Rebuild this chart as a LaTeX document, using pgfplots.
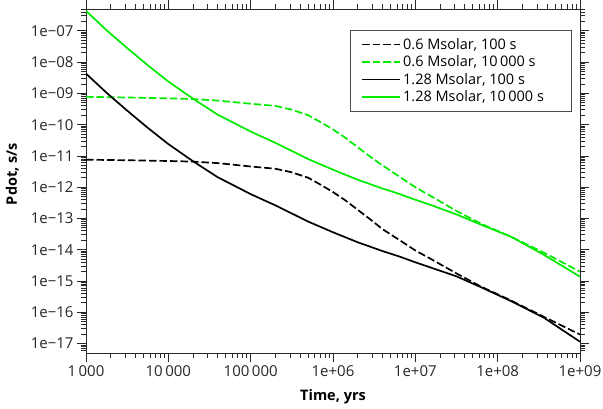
\documentclass[border=0pt]{standalone}
\usepackage{fontspec}
\setmainfont{Open Sans}
\usepackage{pgfplots}
\usepackage{pgfplotstable}
\pgfplotsset{compat=1.18}
\definecolor{lgreen}{RGB}{0,235,0}
\definecolor{axgray}{RGB}{40,40,40}

\pgfplotstableread{
x y
1000 7.586e-12
1778 7.45e-12
3162 7.3e-12
5623 7.1e-12
10000 6.9e-12
19950 6.6e-12
39810 5.9e-12
100000 4.6e-12
199500 3.9e-12
316200 3.0e-12
501200 2.0e-12
707900 1.202e-12
1000000 7.0e-13
1413000 3.8e-13
1995000 1.9e-13
2818000 9.5e-14
3981000 4.6e-14
6310000 2.1e-14
10000000 9.5e-15
15850000 4.9e-15
31620000 1.75e-15
63100000 6.6e-16
144500000 2.4e-16
363100000 7.2e-17
1000000000 1.95e-17
}\blackdashed

\pgfplotstableread{
x y
1000 7.762e-10
1778 7.586e-10
3162 7.413e-10
5623 7.16e-10
10000 6.918e-10
19950 6.607e-10
39810 5.888e-10
100000 4.677e-10
199500 3.981e-10
316200 3.020e-10
501200 1.995e-10
707900 1.202e-10
1000000 7.079e-11
1413000 3.802e-11
1995000 1.905e-11
2818000 9.550e-12
3981000 5.012e-12
6310000 2.239e-12
10000000 1.000e-12
15850000 5.012e-13
31620000 1.738e-13
63100000 6.761e-14
144500000 2.630e-14
363100000 8.128e-15
1000000000 1.995e-15
}\greendashed

\pgfplotstableread{
x y
1000 4.3e-9
1778 1.047e-9
3162 2.818e-10
5623 7.943e-11
10000 2.399e-11
19950 6.761e-12
39810 2.089e-12
100000 6.026e-13
199500 2.630e-13
316200 1.445e-13
501200 7.943e-14
707900 5.370e-14
1000000 3.631e-14
1413000 2.512e-14
1995000 1.738e-14
2818000 1.259e-14
3981000 9.120e-15
6310000 6.166e-15
10000000 3.981e-15
15850000 2.630e-15
31620000 1.413e-15
63100000 6.310e-16
144500000 2.30e-16
363100000 6.76e-17
1000000000 1.148e-17
}\blacksolid

\pgfplotstableread{
x y
1000 4.365e-7
1778 1.047e-7
3162 2.818e-8
5623 7.943e-9
10000 2.399e-9
19950 6.761e-10
39810 2.089e-10
100000 6.026e-11
199500 2.630e-11
316200 1.445e-11
501200 7.943e-12
707900 5.370e-12
1000000 3.631e-12
1413000 2.512e-12
1995000 1.738e-12
2818000 1.259e-12
3981000 9.120e-13
6310000 6.166e-13
10000000 3.981e-13
15850000 2.630e-13
31620000 1.349e-13
63100000 6.310e-14
144500000 2.630e-14
363100000 6.918e-15
1000000000 1.380e-15
}\greensolid

\begin{document}
\begin{tikzpicture}
\begin{axis}[
  scale only axis, width=494bp, height=344bp,
  xmode=log, ymode=log,
  xmin=1000, xmax=1e9, ymin=5e-18, ymax=5e-7,
  log basis x=10, log basis y=10,
  xtickten={3,4,5,6,7,8,9},
  ytickten={-17,-16,-15,-14,-13,-12,-11,-10,-9,-8,-7},
  xminorticks=true, yminorticks=true,
  minor xtick={2e3,3e3,4e3,5e3,6e3,7e3,8e3,9e3,2e4,3e4,4e4,5e4,6e4,7e4,8e4,9e4,2e5,3e5,4e5,5e5,6e5,7e5,8e5,9e5,2e6,3e6,4e6,5e6,6e6,7e6,8e6,9e6,2e7,3e7,4e7,5e7,6e7,7e7,8e7,9e7,2e8,3e8,4e8,5e8,6e8,7e8,8e8,9e8},
  minor ytick={6e-18,7e-18,8e-18,9e-18,2e-17,3e-17,4e-17,5e-17,6e-17,7e-17,8e-17,9e-17,2e-16,3e-16,4e-16,5e-16,6e-16,7e-16,8e-16,9e-16,2e-15,3e-15,4e-15,5e-15,6e-15,7e-15,8e-15,9e-15,2e-14,3e-14,4e-14,5e-14,6e-14,7e-14,8e-14,9e-14,2e-13,3e-13,4e-13,5e-13,6e-13,7e-13,8e-13,9e-13,2e-12,3e-12,4e-12,5e-12,6e-12,7e-12,8e-12,9e-12,2e-11,3e-11,4e-11,5e-11,6e-11,7e-11,8e-11,9e-11,2e-10,3e-10,4e-10,5e-10,6e-10,7e-10,8e-10,9e-10,2e-9,3e-9,4e-9,5e-9,6e-9,7e-9,8e-9,9e-9,2e-8,3e-8,4e-8,5e-8,6e-8,7e-8,8e-8,9e-8,2e-7,3e-7,4e-7,5e-7},
  major tick length=9bp, minor tick length=5bp,
  tick style={color=axgray, line width=0.9bp},
  axis line style={axgray, line width=1bp},
  tick align=outside,
  xticklabels={1\,000,10\,000,100\,000,1e+06,1e+07,1e+08,1e+09},
  yticklabels={1e−17,1e−16,1e−15,1e−14,1e−13,1e−12,1e−11,1e−10,1e−09,1e−08,1e−07},
  tick label style={font=\fontsize{15bp}{17bp}\selectfont, text=black!85},
  xlabel={Time, yrs}, ylabel={Pdot, s/s},
  label style={font=\fontsize{14.5bp}{17bp}\selectfont\bfseries},
  xlabel style={at={(axis description cs:0.5,-0.128)}, anchor=center},
  ylabel style={at={(axis description cs:-0.149,0.52)}, anchor=center},
  legend style={at={(0.982,0.939)}, anchor=north east, draw=black!70,
    font=\fontsize{14.5bp}{17bp}\selectfont, row sep=1bp, inner xsep=11bp, inner ysep=6bp},
  legend cell align=left,
  legend image code/.code={\draw[#1] (0bp,0bp) -- (33bp,0bp); \path (0bp,0bp) -- (38bp,0bp);},
]
\addplot[black, line width=1.7bp, dash pattern=on 7.5bp off 3bp] table[x=x,y=y] {\blackdashed};
\addlegendentry{0.6 Msolar, 100 s}
\addplot[lgreen, line width=1.7bp, dash pattern=on 7.5bp off 3bp] table[x=x,y=y] {\greendashed};
\addlegendentry{0.6 Msolar, 10\,000 s}
\addplot[black, line width=1.7bp] table[x=x,y=y] {\blacksolid};
\addlegendentry{1.28 Msolar, 100 s}
\addplot[lgreen, line width=1.7bp] table[x=x,y=y] {\greensolid};
\addlegendentry{1.28 Msolar, 10\,000 s\hspace*{14bp}}
\end{axis}
\pgfresetboundingbox
\path (current axis.south west) ++(-86bp,-56bp) coordinate (bbA);
\path (current axis.north east) ++(23bp,9bp) coordinate (bbB);
\path[use as bounding box] (bbA) rectangle (bbB);
\end{tikzpicture}
\end{document}
